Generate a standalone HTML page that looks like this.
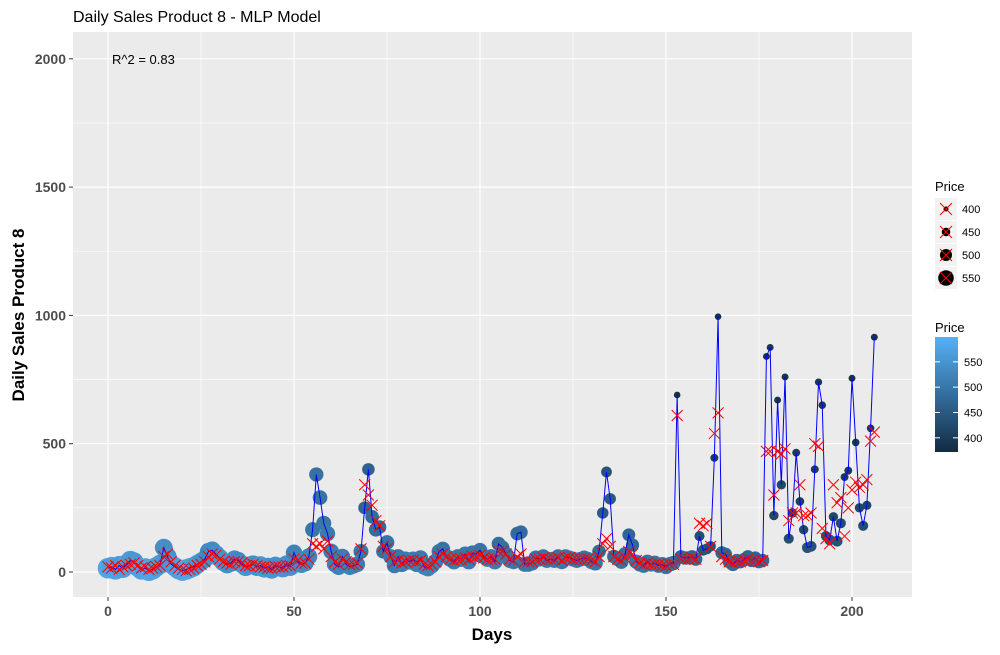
<!DOCTYPE html>
<html><head><meta charset="utf-8"><style>
body{margin:0;background:#fff;font-family:"Liberation Sans",sans-serif}
svg text{font-family:"Liberation Sans",sans-serif}
</style></head><body>
<svg id="c" width="1000" height="650" viewBox="0 0 1000 650">
<defs><linearGradient id="cg" x1="0" y1="1" x2="0" y2="0"><stop offset="0" stop-color="#132B43"/><stop offset="1" stop-color="#56B1F7"/></linearGradient></defs>
<text x="73" y="22" font-size="16" fill="#000">Daily Sales Product 8 - MLP Model</text>
<rect x="73" y="32" width="839" height="565" fill="#EBEBEB"/>
<g id="grid"></g><g id="marks"></g><g id="axes"></g>
<text x="112" y="64" font-size="13" fill="#000">R^2 = 0.83</text>
<text x="492" y="640" font-size="17" font-weight="bold" text-anchor="middle">Days</text>
<text transform="translate(24,315) rotate(-90)" font-size="17" font-weight="bold" text-anchor="middle">Daily Sales Product 8</text>
<g id="sleg">
<text x="935" y="191" font-size="13">Price</text>
</g>
<g>
<text x="935" y="332" font-size="13">Price</text>
<rect x="935" y="337" width="23" height="115" fill="url(#cg)"/>
<g id="cleg"></g>
</g>
</svg>
<script>
const sales=[15,20,10,25,15,30,45,40,20,10,15,5,10,20,30,95,60,30,20,10,5,10,15,20,30,40,50,80,85,70,55,40,30,35,50,45,30,20,25,30,20,25,15,20,10,25,20,15,30,20,75,40,30,35,60,165,380,290,190,150,80,30,20,60,30,20,25,30,80,250,400,215,165,175,80,115,60,25,60,30,50,40,50,30,55,20,15,25,40,80,90,60,50,40,60,50,70,40,75,70,85,60,50,60,40,110,95,70,45,40,150,155,30,30,35,55,50,60,45,50,45,60,40,60,55,50,45,50,55,50,40,35,80,230,390,285,60,50,40,70,145,105,40,30,25,40,30,35,25,30,20,30,35,690,60,55,55,60,50,140,85,90,100,445,995,75,70,40,30,45,40,50,60,45,55,40,45,840,875,220,670,340,760,130,230,465,275,165,95,100,400,740,650,140,125,215,120,190,370,395,755,505,250,180,260,560,915];
const pred=[20,15,25,10,20,25,30,35,25,15,20,10,15,20,25,60,70,40,25,15,10,5,10,15,25,30,40,60,70,65,50,40,35,30,40,40,35,25,25,30,25,20,20,15,15,20,20,20,25,25,50,45,35,35,50,110,100,110,90,120,60,40,30,50,40,30,30,35,90,340,300,260,200,180,100,90,60,40,45,35,40,45,45,40,45,30,25,30,40,60,70,60,50,45,50,50,55,50,60,60,65,55,50,50,50,80,80,70,50,45,60,70,40,40,40,50,50,55,50,50,50,55,45,55,55,50,50,50,50,50,45,40,60,110,130,100,60,50,45,55,80,70,45,35,30,35,30,30,30,25,25,30,30,610,50,50,50,55,50,190,180,190,100,540,620,60,50,40,35,40,40,45,50,45,45,40,45,470,470,300,470,460,480,200,230,230,340,220,220,230,500,490,170,130,110,340,270,290,140,250,320,350,330,340,360,510,545];
const price=[580,570,575,560,565,570,560,555,565,575,570,580,575,565,560,540,545,555,560,570,575,580,575,565,555,545,540,530,535,540,545,550,545,540,535,530,540,550,545,540,545,550,555,545,550,540,545,550,540,545,520,530,535,530,525,500,490,495,500,505,510,515,520,510,515,520,515,510,500,470,465,480,485,480,490,495,500,505,500,510,505,510,505,510,505,515,520,515,510,500,495,500,505,505,500,505,500,505,495,500,495,500,505,500,505,485,490,495,500,500,480,480,500,500,500,495,495,495,500,495,500,495,500,495,495,500,500,495,495,495,500,500,480,450,440,450,480,485,490,485,470,475,490,495,495,490,495,495,495,495,495,495,490,380,470,475,475,470,475,430,440,440,435,400,380,470,470,475,480,475,475,470,470,475,470,475,475,385,385,420,385,420,385,430,420,400,410,420,440,440,400,390,395,430,440,420,440,430,400,400,385,395,420,430,415,395,385];
const xTicks=[0,50,100,150,200];
const yTicks=[0,500,1000,1500,2000];
const legPrices=[400,450,500,550];
const cbTicks=[400,450,500,550];
const NS="http://www.w3.org/2000/svg";
const X=d=>108+d*3.72, Y=v=>572-v*0.2566;
const pmin=372,pmax=599;
const col=p=>{const t=Math.max(0,Math.min(1,(p-pmin)/(pmax-pmin)));const a=[0x13,0x2B,0x43],b=[0x56,0xB1,0xF7];return`rgb(${a.map((c,i)=>Math.round(c+(b[i]-c)*t)).join(',')})`;};
const rad=p=>3+Math.max(0,(p-pmin)/(pmax-pmin))*8;
function el(t,a,parent){const e=document.createElementNS(NS,t);for(const k in a)e.setAttribute(k,a[k]);parent.appendChild(e);return e;}
const grid=document.getElementById('grid'),marks=document.getElementById('marks'),axes=document.getElementById('axes');
for(let i=0;i<yTicks.length;i++){const v=yTicks[i];
 if(i<yTicks.length-1){const l=el('line',{x1:73,x2:912,y1:Y(v+250),y2:Y(v+250),stroke:'#fff','stroke-width':0.6},grid);}
 const g=el('line',{x1:73,x2:912,y1:Y(v),y2:Y(v),stroke:'#fff','stroke-width':1.2},grid);
 el('line',{x1:69,x2:73,y1:Y(v),y2:Y(v),stroke:'#333'},axes);
 const t=el('text',{x:66,y:Y(v)+5,'text-anchor':'end','font-size':14,'font-weight':'bold',fill:'#4D4D4D'},axes);t.textContent=v;}
el('line',{x1:73,x2:912,y1:Y(-250),y2:Y(-250),stroke:'#fff','stroke-width':0.6},grid);
for(let i=0;i<xTicks.length;i++){const d=xTicks[i];
 const m=el('line',{x1:X(d+25),x2:X(d+25),y1:32,y2:597,stroke:'#fff','stroke-width':0.6},grid);
 const g=el('line',{x1:X(d),x2:X(d),y1:32,y2:597,stroke:'#fff','stroke-width':1.2},grid);
 el('line',{x1:X(d),x2:X(d),y1:597,y2:601,stroke:'#333'},axes);
 const t=el('text',{x:X(d),y:616,'text-anchor':'middle','font-size':14,'font-weight':'bold',fill:'#4D4D4D'},axes);t.textContent=d;}
el('line',{x1:X(-25),x2:X(-25),y1:32,y2:597,stroke:'#fff','stroke-width':0.6},grid);
for(let i=0;i<sales.length;i++){const c=el('circle',{cx:X(i),cy:Y(sales[i]),r:rad(price[i]),fill:col(price[i])},marks);}
const pl=el('polyline',{points:sales.map((v,i)=>X(i)+','+Y(v)).join(' '),fill:'none',stroke:'#0000FF','stroke-width':1},marks);

for(let i=0;i<pred.length;i++){const x=X(i),y=Y(pred[i]),s=5.5;const p=el('path',{d:`M${x-s},${y-s}L${x+s},${y+s}M${x-s},${y+s}L${x+s},${y-s}`,stroke:'#FF0000','stroke-width':1,fill:'none'},marks);}
const sleg=document.getElementById('sleg');
legPrices.forEach((p,i)=>{const cy=209+i*23;el('rect',{x:935,y:cy-11,width:22,height:22,fill:'#F2F2F2'},sleg);
 const c=el('circle',{cx:946,cy:cy,r:rad(p)-1.5,fill:'#000'},sleg);
 el('path',{d:`M940,${cy-6}L952,${cy+6}M940,${cy+6}L952,${cy-6}`,stroke:'#f00','stroke-width':1},sleg);
 const t=el('text',{x:962,y:cy+4,'font-size':11,fill:'#000'},sleg);t.textContent=p;});
const cleg=document.getElementById('cleg');
cbTicks.forEach(p=>{const y=452-(p-pmin)/(pmax-pmin)*115;
 el('line',{x1:935,x2:940,y1:y,y2:y,stroke:'#fff'},cleg);el('line',{x1:953,x2:958,y1:y,y2:y,stroke:'#fff'},cleg);
 const t=el('text',{x:964,y:y+4,'font-size':11,fill:'#000'},cleg);t.textContent=p;});
</script>
</body></html>
